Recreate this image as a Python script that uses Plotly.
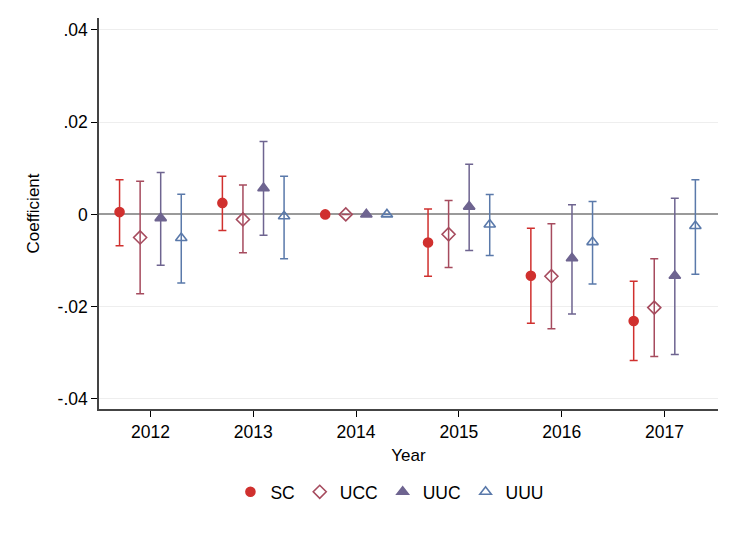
import plotly.graph_objects as go

years = [2012, 2013, 2014, 2015, 2016, 2017]
series = ["SC", "UCC", "UUC", "UUU"]
offsets = [-0.3, -0.1, 0.1, 0.3]
colors = ["#d0302e", "#a64b5e", "#6e6490", "#5a79aa"]
symbols = ["circle", "diamond-open", "triangle-up", "triangle-up-open"]

coef = {
    "SC":  [0.0005, 0.0025, 0.0, -0.0061, -0.0133, -0.0231],
    "UCC": [-0.0050, -0.0011, 0.0, -0.0043, -0.0134, -0.0202],
    "UUC": [-0.0008, 0.0057, 0.0, 0.0017, -0.0095, -0.0133],
    "UUU": [-0.0051, -0.0004, 0.0, -0.0022, -0.0060, -0.0025],
}
upper = {
    "SC":  [0.0075, 0.0083, None, 0.0012, -0.0030, -0.0145],
    "UCC": [0.0072, 0.0064, None, 0.0030, -0.0020, -0.0096],
    "UUC": [0.0091, 0.0158, None, 0.0109, 0.0021, 0.0035],
    "UUU": [0.0044, 0.0083, None, 0.0043, 0.0028, 0.0075],
}
lower = {
    "SC":  [-0.0068, -0.0035, None, -0.0134, -0.0236, -0.0317],
    "UCC": [-0.0172, -0.0083, None, -0.0115, -0.0248, -0.0308],
    "UUC": [-0.0110, -0.0045, None, -0.0078, -0.0216, -0.0304],
    "UUU": [-0.0149, -0.0096, None, -0.0089, -0.0151, -0.0130],
}
ytick_vals = [-0.04, -0.02, 0, 0.02, 0.04]
ytick_text = ["-.04", "-.02", "0", ".02", ".04"]

fig = go.Figure()
for s, off, col, sym in zip(series, offsets, colors, symbols):
    xs = [y + off for y in years]
    plus = [None if u is None else u - c for u, c in zip(upper[s], coef[s])]
    minus = [None if l is None else c - l for l, c in zip(lower[s], coef[s])]
    fig.add_trace(go.Scatter(
        x=xs, y=coef[s], mode="markers", name=s,
        marker=dict(symbol=sym, color=col, size=9 if sym == "circle" else 10,
                    line=dict(color=col, width=1.6)),
        error_y=dict(type="data", symmetric=False, array=plus, arrayminus=minus,
                     color=col, thickness=1.5, width=4),
    ))

font = "Liberation Sans, Arial, Helvetica, sans-serif"
fig.update_layout(
    width=737, height=536,
    margin=dict(l=91, r=27, t=10, b=135),
    paper_bgcolor="white", plot_bgcolor="white",
    font=dict(family=font, size=16, color="black"),
    showlegend=True,
    legend=dict(orientation="h", x=0.47, xanchor="center", y=-0.212, yanchor="middle",
                font=dict(size=17.5), itemwidth=30, tracegroupgap=0),
    xaxis=dict(range=[2011.5, 2017.52], tickvals=years, ticks="outside", ticklen=6,
               tickcolor="black", showline=True, linecolor="#444", linewidth=1.5,
               showgrid=False, zeroline=False, tickfont=dict(size=17.5),
               title=dict(text="Year", standoff=8, font=dict(size=17))),
    yaxis=dict(range=[-0.0422, 0.0426], tickvals=ytick_vals, ticktext=ytick_text,
               ticks="outside", ticklen=6, tickcolor="black", showline=True,
               linecolor="#444", linewidth=1.5, showgrid=True, gridcolor="#eeeeee",
               gridwidth=1, zeroline=True, zerolinecolor="#9a9a9a", zerolinewidth=1.5,
               tickfont=dict(size=17.5),
               title=dict(text="Coefficient", standoff=14, font=dict(size=17))),
)
fig.write_html("out.html")
